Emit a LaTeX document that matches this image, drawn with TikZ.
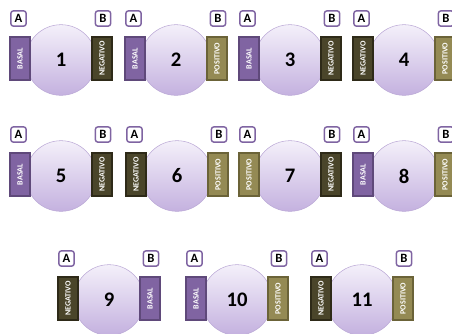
\documentclass[tikz,border=0pt]{standalone}
\usepackage{fontspec}
\setmainfont{Carlito}
\definecolor{basalC}{HTML}{8064A2}
\definecolor{basalD}{HTML}{5F497A}
\definecolor{negC}{HTML}{4A452A}
\definecolor{negD}{HTML}{2E2A18}
\definecolor{posC}{HTML}{948A54}
\definecolor{posD}{HTML}{6B6338}
\definecolor{circTop}{HTML}{F4F0FA}
\definecolor{circBot}{HTML}{C4B1DF}
\definecolor{circLine}{HTML}{BBA9D6}
\definecolor{labLine}{HTML}{7F64A2}
\tikzset{
  disc/.style={circle, minimum size=53pt, inner sep=0pt, draw=circLine, line width=0.4pt, top color=circTop, bottom color=circBot},
  numtext/.style={font=\fontsize{15.5}{15.5}\selectfont\bfseries, text=black},
  labbox/.style={rectangle, rounded corners=2pt, draw=labLine, line width=1.1pt, fill=white, minimum size=11.5pt, inner sep=0pt, font=\fontsize{9.5}{9.5}\selectfont\bfseries},
  tagbox/.style={rectangle, rotate=90, minimum width=32.25pt, minimum height=15pt, inner sep=0pt, line width=0.8pt, text=white, font=\fontsize{6}{6}\selectfont\bfseries},
  BASAL/.style={tagbox, fill=basalC, draw=basalD},
  NEGATIVO/.style={tagbox, fill=negC, draw=negD},
  POSITIVO/.style={tagbox, fill=posC, draw=posD}
}
% #1 name, #2 L, #3 T, #4 number, #5 left tag, #6 right tag
\newcommand{\myunit}[6]{%
  \node[disc] (#1c) at (#2+51,#3+23) {};
  \node[numtext] (#1n) at (#1c) {#4};
  \node[#5] (#1l) at (#2+10,#3+21.5) {#5};
  \node[#6] (#1r) at (#2+92,#3+21.5) {#6};
  \node[labbox] (#1a) at (#2+8.5,#3-18.5) {A};
  \node[labbox] (#1b) at (#2+93,#3-18.5) {B};
}
\begin{document}
\begin{tikzpicture}[x=0.75pt,y=-0.75pt]
\useasboundingbox (0,0) rectangle (452,333);
\clip (0,0) rectangle (452,333);
\myunit{u1}{10}{37}{1}{BASAL}{NEGATIVO}
\myunit{u2}{125}{37}{2}{BASAL}{POSITIVO}
\myunit{u3}{239}{37}{3}{BASAL}{NEGATIVO}
\myunit{u4}{353}{37}{4}{NEGATIVO}{POSITIVO}
\myunit{u5}{10}{153}{5}{BASAL}{NEGATIVO}
\myunit{u6}{126}{153}{6}{NEGATIVO}{POSITIVO}
\myunit{u7}{239}{153}{7}{POSITIVO}{NEGATIVO}
\myunit{u8}{353}{153}{8}{BASAL}{POSITIVO}
\myunit{u9}{58}{277}{9}{NEGATIVO}{BASAL}
\myunit{u10}{186}{277}{10}{BASAL}{POSITIVO}
\myunit{u11}{311}{277}{11}{NEGATIVO}{POSITIVO}
\end{tikzpicture}
\end{document}
